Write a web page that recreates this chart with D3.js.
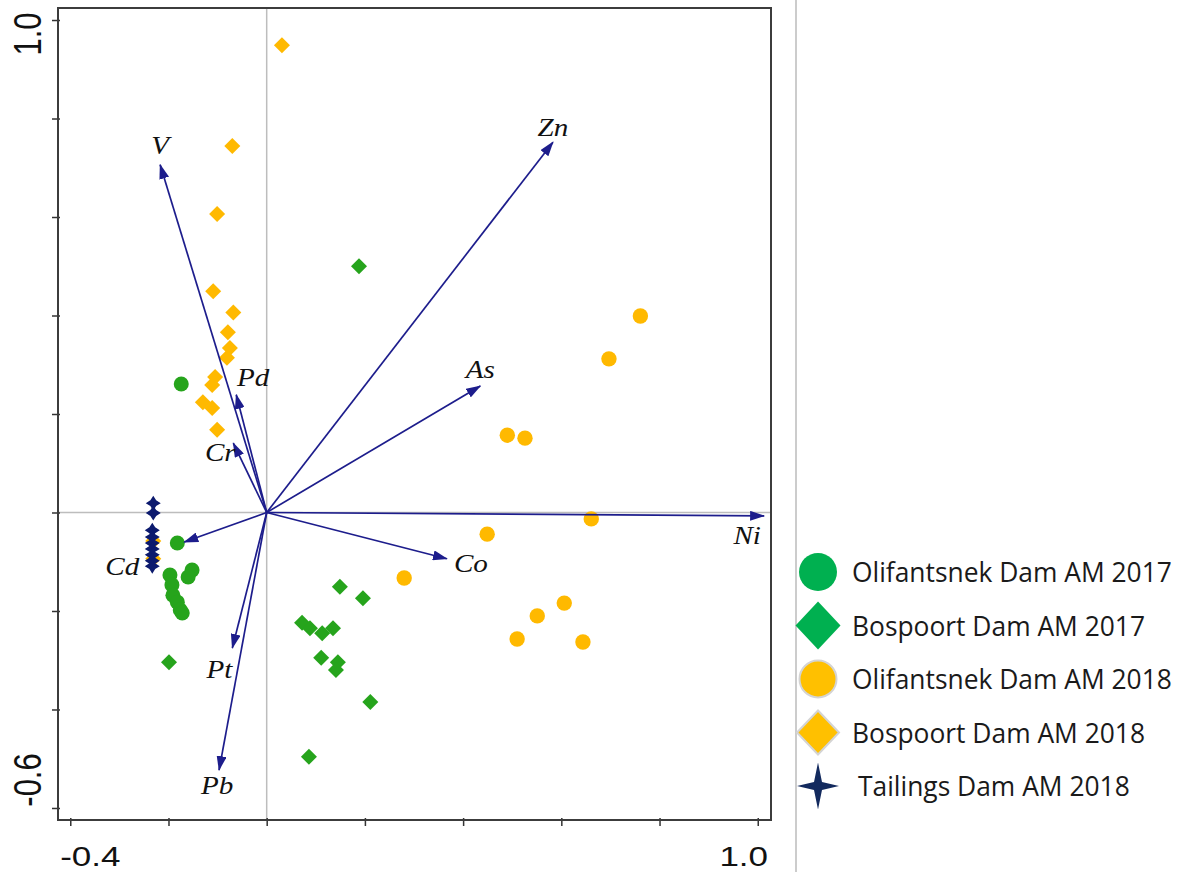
<!DOCTYPE html>
<html>
<head>
<meta charset="utf-8">
<script src="https://cdn.jsdelivr.net/npm/d3@7"></script>
<style>
  body { margin: 0; background: #fff; }
  svg { display: block; }
</style>
</head>
<body>
<svg id="chart" width="1186" height="872"></svg>
<script>
// ---- sample scores (PC1, PC2) ----
const olifantsnek2017 = [
  [-0.174, 0.261], [-0.182, -0.062], [-0.197, -0.127], [-0.193, -0.147],
  [-0.191, -0.168], [-0.182, -0.182], [-0.176, -0.198], [-0.172, -0.204],
  [-0.152, -0.117], [-0.160, -0.131]
];
const bospoort2017 = [
  [0.188, 0.500], [-0.199, -0.304], [0.149, -0.151], [0.196, -0.174],
  [0.072, -0.224], [0.088, -0.235], [0.113, -0.245], [0.135, -0.235],
  [0.111, -0.295], [0.145, -0.304], [0.141, -0.320], [0.211, -0.385],
  [0.086, -0.496]
];
const olifantsnek2018 = [
  [0.761, 0.399], [0.697, 0.312], [0.490, 0.157], [0.526, 0.151],
  [0.449, -0.044], [0.661, -0.013], [0.280, -0.133], [0.606, -0.184],
  [0.551, -0.210], [0.510, -0.257], [0.644, -0.263]
];
const bospoort2018 = [
  [0.031, 0.949], [-0.070, 0.744], [-0.101, 0.606], [-0.109, 0.449],
  [-0.068, 0.406], [-0.079, 0.366], [-0.075, 0.334], [-0.081, 0.314],
  [-0.105, 0.275], [-0.111, 0.259], [-0.130, 0.224], [-0.111, 0.212],
  [-0.101, 0.168], [-0.231, -0.058], [-0.231, -0.094]
];
const tailings2018 = [
  [-0.231, 0.019], [-0.231, -0.001], [-0.233, -0.036], [-0.233, -0.050],
  [-0.233, -0.062], [-0.233, -0.074], [-0.233, -0.086], [-0.233, -0.098],
  [-0.233, -0.109]
];

// ---- variable loadings ----
const loadingNames = ["Zn", "V", "As", "Pd", "Cr", "Ni", "Co", "Cd", "Pt", "Pb"];
const loadingX = [0.583, -0.217, 0.435, -0.062, -0.068, 1.013, 0.367, -0.168, -0.070, -0.097];
const loadingY = [0.752, 0.706, 0.257, 0.239, 0.141, -0.007, -0.094, -0.060, -0.275, -0.523];

// ---- axes ----
const xTickValues = [-0.4, -0.2, 0, 0.2, 0.4, 0.6, 0.8, 1.0];
const yTickValues = [-0.6, -0.4, -0.2, 0, 0.2, 0.4, 0.6, 0.8, 1.0];
const xLabelValues = [-0.4, 1.0];
const xLabelTexts = ["-0.4", "1.0"];
const yLabelValues = [-0.6, 1.0];
const yLabelTexts = ["-0.6", "1.0"];

// ---- legend ----
const legendLabels = [
  "Olifantsnek Dam AM 2017",
  "Bospoort Dam AM 2017",
  "Olifantsnek Dam AM 2018",
  "Bospoort Dam AM 2018",
  "Tailings Dam AM 2018"
];

const svg = d3.select("#chart");

const box = { left: 58, right: 771, top: 8, bottom: 820 };
const x = d3.scaleLinear().domain([-0.425, 1.027]).range([box.left, box.right]);
const y = d3.scaleLinear().domain([-0.6244, 1.0244]).range([box.bottom, box.top]);

const greenPlot = "#26a41c";
const yellowPlot = "#ffb900";
const navyPlot = "#0c1a6e";
const arrowBlue = "#1d1d8c";

// zero reference lines
svg.append("line")
  .attr("x1", x(0)).attr("x2", x(0))
  .attr("y1", box.top).attr("y2", box.bottom)
  .attr("stroke", "#bdbdbd").attr("stroke-width", 1.5);
svg.append("line")
  .attr("x1", box.left).attr("x2", box.right)
  .attr("y1", y(0)).attr("y2", y(0))
  .attr("stroke", "#bdbdbd").attr("stroke-width", 1.5);

// ticks
const xAxis = d3.axisBottom(x).tickValues(xTickValues).tickFormat("").tickSizeInner(7).tickSizeOuter(0);
const gx = svg.append("g").attr("transform", `translate(0,${box.bottom})`).call(xAxis);
gx.select(".domain").remove();
gx.selectAll(".tick line").attr("y1", -2).attr("y2", 6).attr("stroke", "#333").attr("stroke-width", 1.5);

const yAxis = d3.axisLeft(y).tickValues(yTickValues).tickFormat("").tickSizeInner(7).tickSizeOuter(0);
const gy = svg.append("g").attr("transform", `translate(${box.left},0)`).call(yAxis);
gy.select(".domain").remove();
gy.selectAll(".tick line").attr("x1", 2).attr("x2", -6).attr("stroke", "#333").attr("stroke-width", 1.5);

// end tick labels (horizontally widened glyphs)
const xLabelShift = [20, -14];
xLabelValues.forEach((v, i) => {
  svg.append("text")
    .attr("transform", `translate(${x(v) + xLabelShift[i]},856) scale(1.25,1)`)
    .attr("text-anchor", "middle")
    .attr("dominant-baseline", "central")
    .attr("font-family", "'Liberation Sans', Arial, sans-serif")
    .attr("font-size", 28)
    .attr("fill", "#111")
    .text(xLabelTexts[i]);
});
const yLabelShift = [-28, 14];
yLabelValues.forEach((v, i) => {
  svg.append("text")
    .attr("transform", `translate(27,${y(v) + yLabelShift[i]}) scale(1.25,1) rotate(-90)`)
    .attr("text-anchor", "middle")
    .attr("dominant-baseline", "central")
    .attr("font-family", "'Liberation Sans', Arial, sans-serif")
    .attr("font-size", 31)
    .attr("fill", "#111")
    .text(yLabelTexts[i]);
});

// shape helpers
const diamondPath = (h) => `M0,${-h}L${h},0L0,${h}L${-h},0Z`;
const starPath = (rx, ry, k) =>
  `M0,${-ry}L${k},${-k}L${rx},0L${k},${k}L0,${ry}L${-k},${k}L${-rx},0L${-k},${-k}Z`;

const plotG = svg.append("g");

plotG.selectAll(".olif17").data(olifantsnek2017).join("circle")
  .attr("cx", d => x(d[0])).attr("cy", d => y(d[1])).attr("r", 7.5)
  .attr("fill", greenPlot);

plotG.selectAll(".bosp17").data(bospoort2017).join("path")
  .attr("transform", d => `translate(${x(d[0])},${y(d[1])})`)
  .attr("d", diamondPath(8)).attr("fill", greenPlot);

plotG.selectAll(".olif18").data(olifantsnek2018).join("circle")
  .attr("cx", d => x(d[0])).attr("cy", d => y(d[1])).attr("r", 7.7)
  .attr("fill", yellowPlot);

plotG.selectAll(".bosp18").data(bospoort2018).join("path")
  .attr("transform", d => `translate(${x(d[0])},${y(d[1])})`)
  .attr("d", diamondPath(8)).attr("fill", yellowPlot);

plotG.selectAll(".tail18").data(tailings2018).join("path")
  .attr("transform", d => `translate(${x(d[0])},${y(d[1])})`)
  .attr("d", starPath(7.5, 7.5, 2.9)).attr("fill", navyPlot);

// loading arrows
svg.append("defs").append("marker")
  .attr("id", "head")
  .attr("viewBox", "0 -5 15 10")
  .attr("markerUnits", "userSpaceOnUse")
  .attr("markerWidth", 15).attr("markerHeight", 10)
  .attr("refX", 14).attr("refY", 0)
  .attr("orient", "auto")
  .append("path").attr("d", "M0,-5L15,0L0,5Z").attr("fill", arrowBlue);

const loadings = loadingNames.map((n, i) => ({ name: n, lx: loadingX[i], ly: loadingY[i] }));
svg.append("g").selectAll("line").data(loadings).join("line")
  .attr("x1", x(0)).attr("y1", y(0))
  .attr("x2", d => x(d.lx)).attr("y2", d => y(d.ly))
  .attr("stroke", arrowBlue).attr("stroke-width", 1.7)
  .attr("marker-end", "url(#head)");

// label offsets from arrow tips (px)
const labelOffset = {
  Zn: [0, -15], V: [0, -20], As: [0, -17], Pd: [17, -18], Cr: [-13, 9],
  Ni: [-17, 19], Co: [24, 4], Cd: [-62, 24], Pt: [-13, 21], Pb: [-2, 15]
};
svg.append("g").selectAll("text").data(loadings).join("text")
  .attr("transform", d => `translate(${x(d.lx) + labelOffset[d.name][0]},${y(d.ly) + labelOffset[d.name][1]}) scale(1.12,1)`)
  .attr("text-anchor", "middle")
  .attr("dominant-baseline", "central")
  .attr("font-family", "'Liberation Serif', 'Times New Roman', serif")
  .attr("font-style", "italic")
  .attr("font-size", 26)
  .attr("fill", "#111")
  .text(d => d.name);

// plot frame
svg.append("rect")
  .attr("x", box.left).attr("y", box.top)
  .attr("width", box.right - box.left).attr("height", box.bottom - box.top)
  .attr("fill", "none").attr("stroke", "#3c3c3c").attr("stroke-width", 2);

// divider between plot and legend
svg.append("line")
  .attr("x1", 796).attr("x2", 796).attr("y1", 0).attr("y2", 872)
  .attr("stroke", "#cccccc").attr("stroke-width", 2);

// legend
const legendY = d3.scalePoint().domain(legendLabels).range([572, 786]);
const legendMarkers = [
  g => g.append("circle").attr("r", 19).attr("fill", "#00b050"),
  g => g.append("path").attr("d", `M0,-24L22.5,0L0,24L-22.5,0Z`).attr("fill", "#00b050"),
  g => g.append("circle").attr("r", 18.5).attr("fill", "#ffc000").attr("stroke", "#d4d4d4").attr("stroke-width", 2),
  g => g.append("path").attr("d", `M0,-22L21,0L0,22L-21,0Z`).attr("fill", "#ffc000").attr("stroke", "#d4d4d4").attr("stroke-width", 2),
  g => g.append("path").attr("d", starPath(21, 23.5, 4)).attr("fill", "#132a5e")
];
const legend = svg.append("g");
legendLabels.forEach((lab, i) => {
  const g = legend.append("g").attr("transform", `translate(818,${legendY(lab)})`);
  legendMarkers[i](g);
  legend.append("text")
    .attr("class", "legend-text")
    .attr("x", i === 4 ? 858 : 852)
    .attr("y", legendY(lab))
    .attr("dominant-baseline", "central")
    .attr("font-family", "'Open Sans', 'Noto Sans', sans-serif")
    .attr("font-size", 26)
    .attr("fill", "#1a1a1a")
    .text(lab);
});
// size legend type so the longest entry spans its allotted width
const first = legend.select(".legend-text").node();
const w = first.getComputedTextLength();
const fs = 26 * 320 / w;
legend.selectAll(".legend-text").attr("font-size", fs);
</script>
</body>
</html>
